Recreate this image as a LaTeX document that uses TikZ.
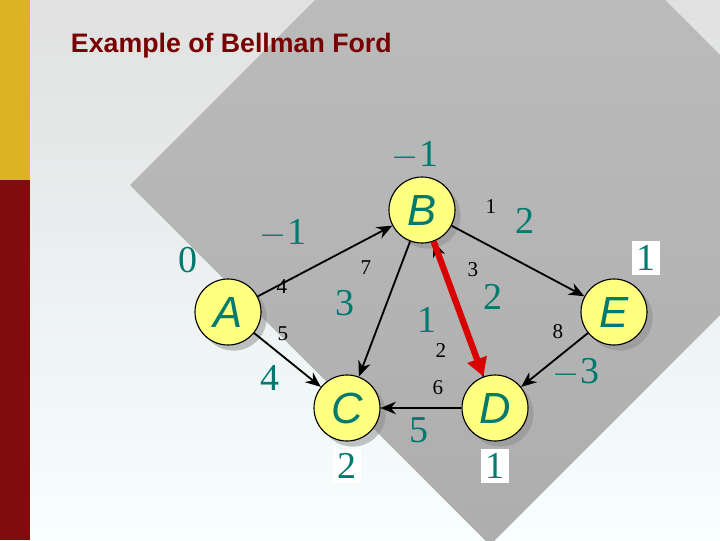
\documentclass[tikz,border=0pt]{standalone}
\usepackage{fontspec}
\setsansfont{Liberation Sans}
\setmainfont{Liberation Serif}
\usetikzlibrary{shadows,arrows.meta}
\definecolor{teal}{RGB}{0,122,110}
\definecolor{titlered}{RGB}{120,0,0}
\definecolor{nodeyellow}{RGB}{255,255,128}
\begin{document}
\begin{tikzpicture}[x=0.025cm, y=-0.025cm,
    vertex/.style={circle, draw, thick, fill=nodeyellow, minimum size=66*0.025cm, inner sep=0pt,
      font=\sffamily\itshape\fontsize{31}{31}\selectfont, text=teal,
      drop shadow={shadow xshift=4pt, shadow yshift=-4pt, fill=black!45}},
    wt/.style={font=\fontsize{15}{15}\selectfont},
    dist/.style={font=\fontsize{27}{27}\selectfont, text=teal},
    distbox/.style={dist, fill=white, inner sep=3pt},
    every edge/.style={draw, line width=1.3pt, -{Stealth[length=11pt, width=9pt]}}]
    % Background
    \useasboundingbox (0,0) rectangle (720,540);
    \shade[top color=black!12, bottom color=cyan!3] (0,0) rectangle (720,540);
    \shade[top color=black!25, bottom color=black!32] (130,185) -- (490,-175) -- (850,185) -- (490,545) -- cycle;
    \fill[yellow!60!orange!85!black] (0,0) rectangle (30,180);
    \fill[titlered!95] (0,180) rectangle (30,540);
    \node[anchor=west, font=\sffamily\bfseries\fontsize{19}{19}\selectfont, text=titlered] (title) at (66,46) {Example of Bellman Ford};

    % Vertices
    \node[vertex] (A) at (228,312) {A};
    \node[vertex] (B) at (422,210) {B};
    \node[vertex] (C) at (347,408) {C};
    \node[vertex] (D) at (495,408) {D};
    \node[vertex] (E) at (614,312) {E};

    % Edges
    \draw (A) edge (B);
    \draw (A) edge (C);
    \draw (B) edge (C);
    \draw (D) edge (B);
    \draw (B) edge (E);
    \draw (E) edge (D);
    \draw (D) edge (C);
    \draw[red!85!black, line width=4.5pt, -{Triangle[length=13pt, width=14pt]}] (B) -- (D);

    % Weights
    \node[wt] (wab) at (282,287) {4};
    \node[wt] (wac) at (283,334) {5};
    \node[wt] (wbc) at (366,268) {7};
    \node[wt] (wbe) at (491,207) {1};
    \node[wt] (wbd) at (473,270) {3};
    \node[wt] (wdb) at (441,351) {2};
    \node[wt] (wdc) at (438,388) {6};
    \node[wt] (wed) at (558,332) {8};

    % Distances
    \node[dist] (dB) at (415,155) {$-$1};
    \node[dist] (dab) at (283,233) {$-$1};
    \node[dist] (dA) at (188,260) {0};
    \node[dist] (dbc) at (345,303) {3};
    \node[dist] (ddb) at (427,320) {1};
    \node[dist] (dbe) at (525,221) {2};
    \node[dist] (dbd) at (493,297) {2};
    \node[distbox] (dE) at (646,258) {1};
    \node[dist] (ded) at (576,372) {$-$3};
    \node[dist] (dac) at (270,378) {4};
    \node[dist] (ddc) at (419,430) {5};
    \node[distbox] (dC) at (347,466) {2};
    \node[distbox] (dD) at (495,466) {1};
\end{tikzpicture}
\end{document}
